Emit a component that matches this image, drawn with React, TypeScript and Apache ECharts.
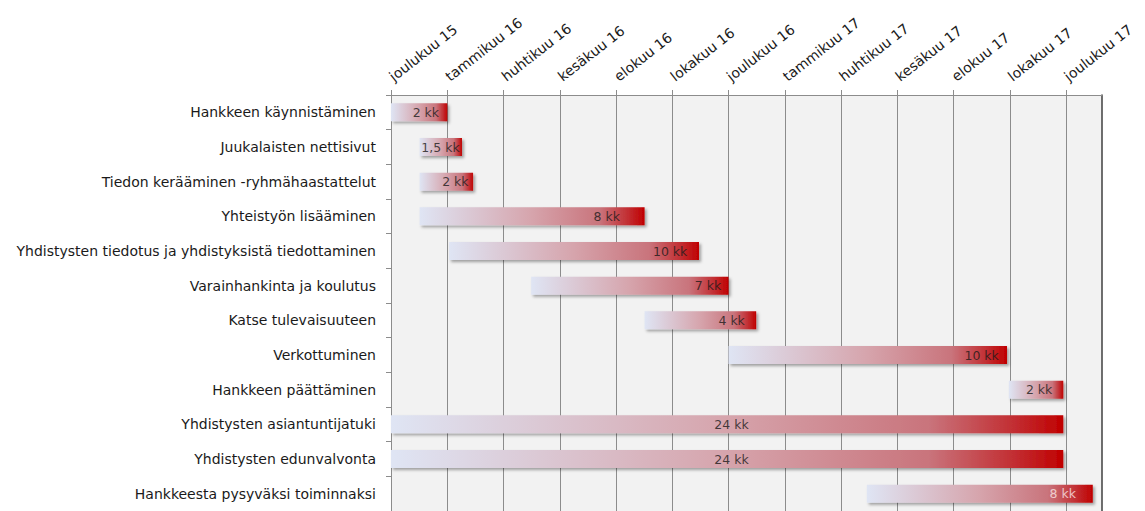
import React, { useEffect, useRef } from "react";
import * as echarts from "echarts";

// Tasks (top to bottom)
const tasks = [
  "Hankkeen käynnistäminen",
  "Juukalaisten nettisivut",
  "Tiedon kerääminen -ryhmähaastattelut",
  "Yhteistyön lisääminen",
  "Yhdistysten tiedotus ja yhdistyksistä tiedottaminen",
  "Varainhankinta ja koulutus",
  "Katse tulevaisuuteen",
  "Verkottuminen",
  "Hankkeen päättäminen",
  "Yhdistysten asiantuntijatuki",
  "Yhdistysten edunvalvonta",
  "Hankkeesta pysyväksi toiminnaksi",
];

// Days since 1 Dec 2015
const startDays = [0, 31, 31, 31, 63, 152, 275, 366, 670, 0, 0, 516];
const durationDays = [61, 46, 58, 244, 271, 214, 121, 302, 59, 729, 729, 245];
const durationLabels = ["2 kk", "1,5 kk", "2 kk", "8 kk", "10 kk", "7 kk", "4 kk", "10 kk", "2 kk", "24 kk", "24 kk", "8 kk"];
const labelDays = [37.8, 53.7, 69.8, 234, 302.7, 343.7, 369.4, 640.5, 702.8, 369.2, 369.2, 728.5];

// Axis ticks (every 61 days from 1 Dec 2015)
const tickDays = [0, 61, 122, 183, 244, 305, 366, 427, 488, 549, 610, 671, 732];
const tickLabels = [
  "joulukuu 15", "tammikuu 16", "huhtikuu 16", "kesäkuu 16", "elokuu 16", "lokakuu 16",
  "joulukuu 16", "tammikuu 17", "huhtikuu 17", "kesäkuu 17", "elokuu 17", "lokakuu 17", "joulukuu 17",
];
const axisMaxDay = 771;

const FONT = "'DejaVu Sans', sans-serif";

export default function App() {
  const ref = useRef<HTMLDivElement>(null);
  useEffect(() => {
    if (!ref.current) return;
    const chart = echarts.init(ref.current, null, { renderer: "svg" });
    const gradient = new echarts.graphic.LinearGradient(0, 0, 1, 0, [
      { offset: 0, color: "#dfe5f4" },
      { offset: 0.5, color: "#d6a4ac" },
      { offset: 0.8, color: "#c9747c" },
      { offset: 0.93, color: "#c22c30" },
      { offset: 1, color: "#c00000" },
    ]);
    chart.setOption({
      animation: false,
      grid: {
        left: 391,
        right: 43,
        top: 95,
        bottom: -6,
        show: true,
        backgroundColor: "#f2f2f2",
        borderWidth: 0,
      },
      xAxis: {
        type: "value",
        position: "top",
        min: 0,
        max: axisMaxDay,
        interval: 61,
        axisLine: { show: true, lineStyle: { color: "#8c8c8c", width: 1 } },
        axisTick: { show: true, length: 5, lineStyle: { color: "#8c8c8c" }, customValues: tickDays },
        axisLabel: {
          rotate: -38,
          margin: 17,
          fontFamily: FONT,
          fontSize: 14,
          color: "#1a1a1a",
          customValues: tickDays,
          formatter: (v: number) => {
            const i = tickDays.indexOf(Math.round(v));
            return i >= 0 ? tickLabels[i] : "";
          },
        },
        splitLine: { show: true, lineStyle: { color: "#8c8c8c", width: 1 } },
      },
      yAxis: [
        {
          type: "category",
          inverse: true,
          data: tasks,
          axisLine: { show: true, lineStyle: { color: "#8c8c8c" } },
          axisTick: { show: true, length: 5, lineStyle: { color: "#8c8c8c" } },
          axisLabel: { margin: 15, fontFamily: FONT, fontSize: 14, color: "#1a1a1a" },
        },
        {
          type: "category",
          inverse: true,
          position: "right",
          data: tasks,
          axisLine: { show: true, lineStyle: { color: "#3f3f3f", width: 1.5 } },
          axisTick: { show: false },
          axisLabel: { show: false },
        },
      ],
      series: [
        {
          type: "bar",
          stack: "g",
          silent: true,
          data: startDays,
          barWidth: 18,
          itemStyle: { color: "transparent" },
        },
        {
          type: "bar",
          stack: "g",
          data: durationDays,
          barWidth: 18,
          itemStyle: {
            color: gradient,
            shadowColor: "rgba(0,0,0,0.35)",
            shadowBlur: 3,
            shadowOffsetX: 2,
            shadowOffsetY: 2,
          },
        },
        {
          type: "scatter",
          symbolSize: 1,
          itemStyle: { color: "transparent" },
          data: labelDays.map((d, i) => ({
            value: [d, i],
            label: {
              show: true,
              position: "inside",
              formatter: durationLabels[i],
              fontFamily: FONT,
              fontSize: 12.5,
              color: i === labelDays.length - 1 ? "#fbe6e6" : "#1a1a1a",
            },
          })),
          z: 5,
        },
      ],
    });
    return () => chart.dispose();
  }, []);
  return (
    <div
      ref={ref}
      style={{ position: "absolute", left: 0, top: 0, width: 1145, height: 511 }}
    />
  );
}
